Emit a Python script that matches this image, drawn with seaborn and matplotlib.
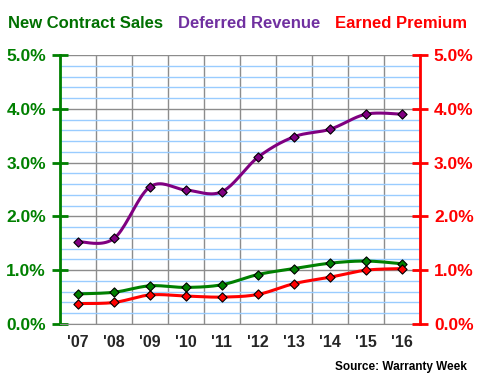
import numpy as np
import pandas as pd
import matplotlib
matplotlib.use("Agg")
import matplotlib.pyplot as plt
from matplotlib.ticker import MultipleLocator, FuncFormatter
import seaborn as sns

years = ["'07", "'08", "'09", "'10", "'11", "'12", "'13", "'14", "'15", "'16"]
new_contract_sales = [0.56, 0.59, 0.71, 0.68, 0.73, 0.92, 1.03, 1.13, 1.17, 1.12]
deferred_revenue = [1.53, 1.59, 2.55, 2.49, 2.46, 3.10, 3.48, 3.62, 3.90, 3.90]
earned_premium = [0.38, 0.40, 0.54, 0.52, 0.50, 0.55, 0.75, 0.87, 1.00, 1.03]

GREEN = "#008000"
PURPLE = "#800080"
RED = "#FF0000"
title_colors = ["#007000", "#7030A0", RED]


def smooth(xs, ys, n=20):
    # Excel-style smoothed line: cubic bezier, control points from neighbours / 6
    pts = np.column_stack([xs, ys]).astype(float)
    out = []
    for i in range(len(pts) - 1):
        p0 = pts[max(i - 1, 0)]
        p1 = pts[i]
        p2 = pts[i + 1]
        p3 = pts[min(i + 2, len(pts) - 1)]
        c1 = p1 + (p2 - p0) / 6
        c2 = p2 - (p3 - p1) / 6
        t = np.linspace(0, 1, n, endpoint=(i == len(pts) - 2))[:, None]
        seg = ((1 - t) ** 3) * p1 + 3 * ((1 - t) ** 2) * t * c1 + 3 * (1 - t) * t ** 2 * c2 + t ** 3 * p2
        out.append(seg)
    out = np.vstack(out)
    return out[:, 0], out[:, 1]


sns.set_style("white")
plt.rcParams["font.family"] = ["Liberation Sans", "DejaVu Sans"]
plt.rcParams["font.weight"] = "bold"

fig = plt.figure(figsize=(4.8, 3.9), dpi=100)
ax = fig.add_axes([60 / 480, 1 - 324 / 390, 360 / 480, 269 / 390])

x = np.arange(len(years))
series = [
    ("New Contract Sales", new_contract_sales, GREEN),
    ("Deferred Revenue", deferred_revenue, PURPLE),
    ("Earned Premium", earned_premium, RED),
]

for name, vals, col in series:
    sx, sy = smooth(x, vals)
    sns.lineplot(x=sx, y=sy, ax=ax, color=col, lw=2.2, sort=False, zorder=3)
    sns.scatterplot(x=x, y=vals, ax=ax, color=col, marker="D", s=22,
                    edgecolor="black", linewidth=0.8, zorder=4)

ax.set_xlim(-0.5, len(years) - 0.5)
ax.set_ylim(0, 5)

# grid: light blue minor, grey major
ax.yaxis.set_major_locator(MultipleLocator(1))
ax.yaxis.set_minor_locator(MultipleLocator(0.2))
ax.grid(which="minor", axis="y", color="#99CCFF", lw=1, zorder=0)
ax.grid(which="major", axis="y", color="#8C8C8C", lw=1, zorder=1)
ax.set_xticks(x)
ax.set_xticklabels(years)
ax.set_xticks(np.arange(-0.5, len(years)), minor=True)
ax.grid(which="minor", axis="x", color="#8C8C8C", lw=1, zorder=1)
ax.set_axisbelow(True)

ax.tick_params(axis="x", which="major", length=0, pad=8, labelsize=11.5)
ax.tick_params(axis="x", which="minor", length=5, color="#8C8C8C", direction="out")
ax.tick_params(axis="y", which="minor", length=0)
ax.tick_params(axis="y", which="major", length=12, width=2, direction="inout",
               color=GREEN, labelcolor=GREEN, labelsize=12.5, pad=4)
ax.yaxis.set_major_formatter(FuncFormatter(lambda v, p: f"{v:.1f}%"))

for s in ["top", "right"]:
    ax.spines[s].set_visible(False)
ax.spines["bottom"].set_color("#8C8C8C")
ax.spines["left"].set_color(GREEN)
ax.spines["left"].set_linewidth(2)

ax2 = ax.twinx()
ax2.set_ylim(0, 5)
ax2.yaxis.set_major_locator(MultipleLocator(1))
ax2.yaxis.set_major_formatter(FuncFormatter(lambda v, p: f"{v:.1f}%"))
ax2.tick_params(axis="y", length=12, width=2, direction="inout",
                color=RED, labelcolor=RED, labelsize=12.5, pad=4)
for s in ["top", "left", "bottom"]:
    ax2.spines[s].set_visible(False)
ax2.spines["right"].set_color(RED)
ax2.spines["right"].set_linewidth(2)

for (name, vals, col), tcol, xpos in zip(series, title_colors, [8, 178, 335]):
    fig.text(xpos / 480, 1 - 24 / 390, name, color=tcol, fontsize=12,
             fontweight="bold", ha="left", va="center")

fig.text(467 / 480, 1 - 367 / 390, "Source: Warranty Week", fontsize=8.5,
         fontweight="bold", ha="right", va="center", color="black")

fig.savefig("out.png", dpi=100)
